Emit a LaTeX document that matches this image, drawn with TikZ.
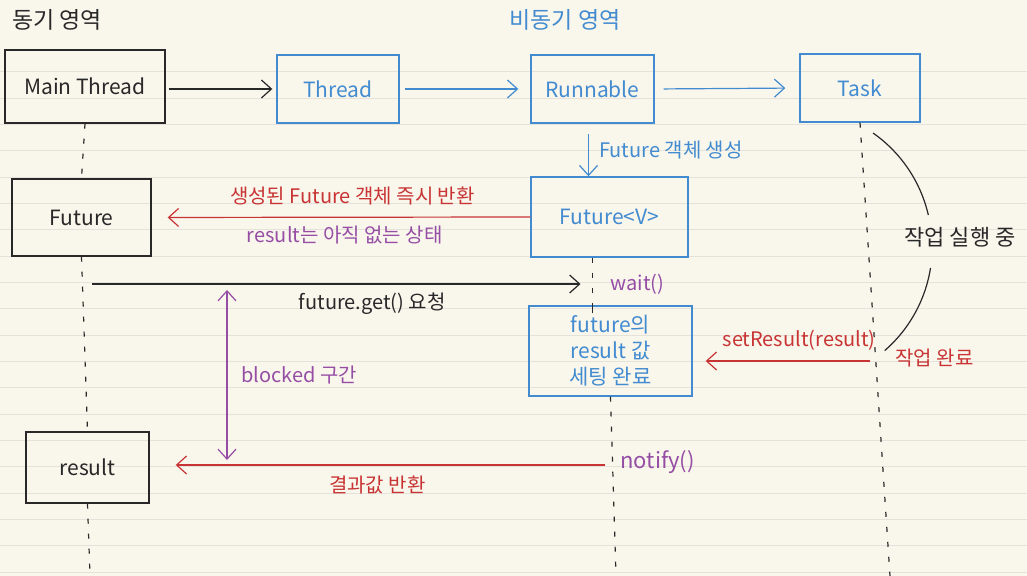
\documentclass[tikz,border=0pt]{standalone}
\usepackage{fontspec}
\setmainfont{Noto Sans CJK KR}
\usetikzlibrary{arrows.meta,calc}
\definecolor{paper}{RGB}{249,246,236}
\definecolor{ruling}{RGB}{228,226,218}
\definecolor{ink}{RGB}{40,40,40}
\definecolor{bluepen}{RGB}{66,139,208}
\definecolor{redpen}{RGB}{200,52,52}
\definecolor{purplepen}{RGB}{150,78,165}
\tikzset{
 syncbox/.style={draw=ink,line width=.7pt,text=ink,inner sep=0,font=\fontsize{10.5}{13}\selectfont},
 asyncbox/.style={draw=bluepen,line width=.7pt,text=bluepen,inner sep=0,font=\fontsize{10.5}{13}\selectfont},
 flow/.style={-{Straight Barb[length=5pt,width=9pt]},line width=.6pt},
 twoway/.style={{Straight Barb[length=5pt,width=9pt]}-{Straight Barb[length=5pt,width=9pt]},line width=.6pt},
 lifeline/.style={draw=ink,line width=.6pt,dash pattern=on 2.5pt off 5pt},
 pen/.style={font=\fontsize{10}{12}\selectfont,inner sep=1pt},
 title/.style={font=\fontsize{11.5}{13}\selectfont,inner sep=0}
}
\begin{document}
\begin{tikzpicture}[x=.5pt,y=-.5pt]
\fill[paper] (0,0) rectangle (1027,576);
\useasboundingbox (0,0) rectangle (1027,576);
\foreach \k in {0,...,19}
  \draw[ruling,line width=.5pt] (0,72+26.33*\k) -- (1027,72+26.33*\k);
\node[title,text=ink] (synctitle) at (57,20) {동기 영역};
\node[title,text=bluepen] (asynctitle) at (565,20) {비동기 영역};
\node[syncbox,minimum width=80pt,minimum height=36.5pt] (mainthread) at (85,86.5) {Main Thread};
\node[asyncbox,minimum width=61pt,minimum height=34pt] (thread) at (338,89) {Thread};
\node[asyncbox,minimum width=61.5pt,minimum height=34pt] (runnable) at (592.5,89) {Runnable};
\node[asyncbox,minimum width=60pt,minimum height=34pt] (task) at (860,88) {Task};
\node[syncbox,minimum width=69.5pt,minimum height=38.5pt] (future) at (81.5,217.5) {Future};
\node[asyncbox,minimum width=78.5pt,minimum height=40pt] (futurev) at (609.5,217) {Future<V>};
\node[asyncbox,minimum width=81.5pt,minimum height=45pt,align=center,font=\fontsize{10.5}{13}\selectfont] (futureset) at (610.5,351) {future의\\result 값\\세팅 완료};
\node[syncbox,minimum width=61.5pt,minimum height=35.5pt] (result) at (87.5,467.5) {result};
\coordinate (mainend) at (90,576);
\coordinate (taskend) at (890,576);
\coordinate (fvend) at (616,576);
\coordinate (getcall) at (92,284);
\coordinate (blockstart) at (227,290);
\coordinate (blockend) at (227,460);
\coordinate (taskdone) at (870,361);
\coordinate (notifycall) at (605,465);
\draw[lifeline] (mainthread.south) -- (future.north);
\draw[lifeline] (future.south) -- (result.north);
\draw[lifeline] (result.south) -- (mainend);
\draw[lifeline] (runnable |- futurev.south) -- ([yshift=-4pt]runnable |- futureset.north);
\draw[ink,line width=.6pt] ([yshift=-4pt]runnable |- futureset.north) -- (runnable |- futureset.north);
\draw[lifeline] (futureset.south) -- (fvend);
\draw[lifeline] (task.south) -- (taskend);
\draw[flow,ink,shorten <=1.5pt,shorten >=2pt] (mainthread.east |- thread.west) -- (thread.west);
\draw[flow,bluepen,shorten <=2.5pt,shorten >=6pt] (thread.east) -- (runnable.west);
\draw[flow,bluepen,shorten <=4.5pt,shorten >=7pt] (runnable.east) -- (task.west);
\draw[flow,bluepen,shorten <=5pt] ([xshift=-2pt]runnable.south) -- ([xshift=-2pt]runnable.south |- futurev.north)
  node[pen,midway,anchor=west,xshift=4pt,text=bluepen] (createlabel) {Future 객체 생성};
\draw[flow,redpen,shorten >=8pt] (futurev.west) -- (future.east)
  node[pen,pos=.47,above=5pt,text=redpen] (returnlabel) {생성된 Future 객체 즉시 반환}
  node[pen,pos=.49,below=3pt,text=purplepen] (emptylabel) {result는 아직 없는 상태};
\draw[flow,ink,shorten >=6pt] (getcall) -- (runnable |- getcall)
  node[pen,pos=.56,below=3pt,text=ink] (getlabel) {future.get() 요청};
\node[pen,anchor=west,text=purplepen] (waitlabel) at (608,284) {wait()};
\draw[twoway,purplepen] (blockstart) -- (blockend)
  node[pen,pos=.5,anchor=west,xshift=6pt,text=purplepen] (blocklabel) {blocked 구간};
\draw[flow,redpen,shorten >=6.5pt] (taskdone) -- (futureset.east |- taskdone)
  node[pen,pos=.4,above=4pt,text=redpen] (setlabel) {setResult(result)};
\node[pen,anchor=west,text=redpen] (donelabel) at (893,358) {작업 완료};
\draw[ink,line width=.6pt] (873,133) arc[start angle=-55,end angle=-13,radius=138];
\draw[ink,line width=.6pt] (930.5,268) arc[start angle=9,end angle=49,radius=138];
\node[pen,text=ink,font=\fontsize{11}{13}\selectfont] (runlabel) at (960,237) {작업 실행 중};
\draw[flow,redpen,shorten >=13pt] (notifycall) -- (result.east |- notifycall)
  node[pen,pos=.5,below=4pt,text=redpen] (resultlabel) {결과값 반환};
\node[pen,anchor=west,text=purplepen,font=\fontsize{11}{13}\selectfont] (notifylabel) at (618,462) {notify()};
\end{tikzpicture}
\end{document}
